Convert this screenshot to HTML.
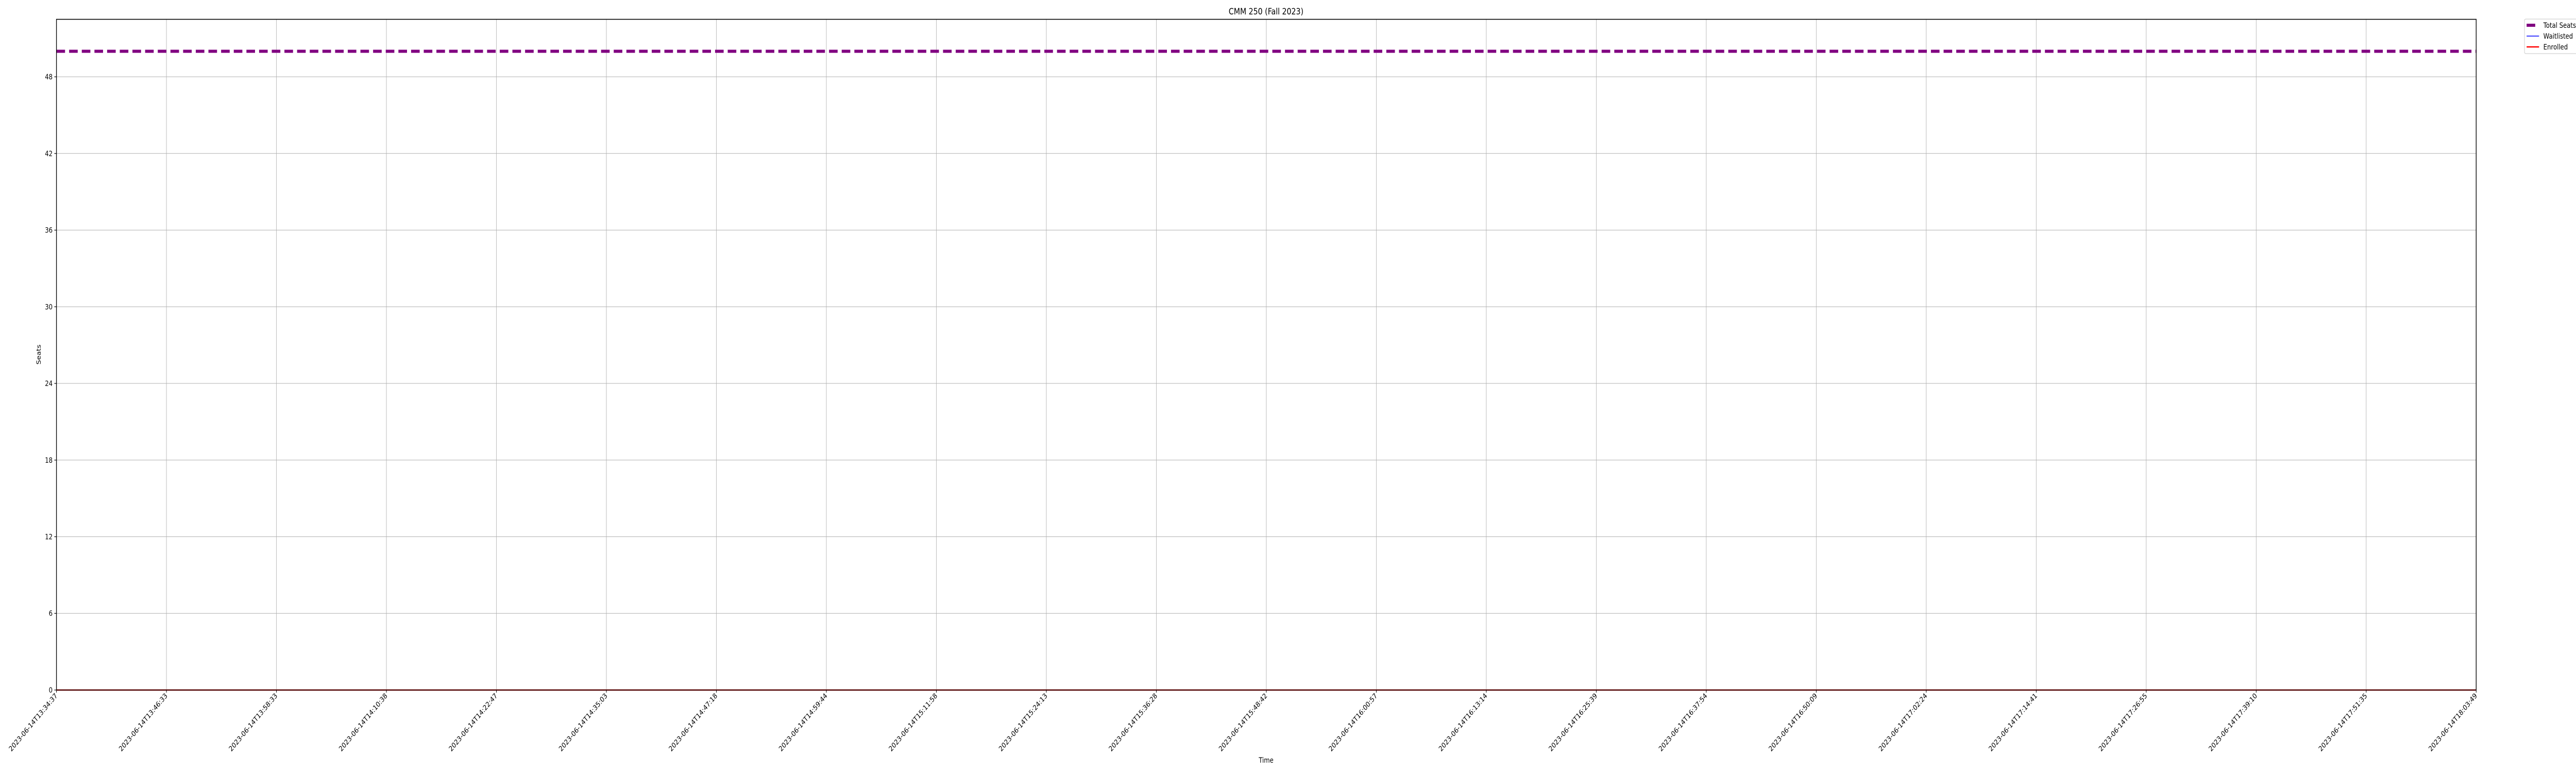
<!DOCTYPE html>
<html><head><meta charset="utf-8"><style>
html,body{margin:0;padding:0;background:#fff;width:100%;height:100%;overflow:hidden;}
svg{display:block;width:100vw;height:100vh;font-family:"DejaVu Sans","Liberation Sans",sans-serif;}
</style></head><body>
<svg id="chart" viewBox="0 0 6000 1500" preserveAspectRatio="none" xmlns="http://www.w3.org/2000/svg">
<rect width="6000" height="1500" fill="#fff"/>
<text x="2949" y="28" font-size="17" text-anchor="middle">CMM 250 (Fall 2023)</text>
<g id="grid"></g><g id="series"></g>
<rect x="131.5" y="37.5" width="5636" height="1301.5" fill="none" stroke="#000" stroke-width="1.6"/>
<g id="axes"></g>
<text transform="translate(95,688) rotate(-90)" font-size="14" text-anchor="middle">Seats</text>
<text x="2949" y="1480" font-size="14" text-anchor="middle">Time</text>
<g>
<rect x="5880" y="37" width="130" height="67" rx="3" fill="#fff" stroke="#d0d0d0" stroke-width="1.3"/>
<line x1="5885" y1="49" x2="5905" y2="49" stroke="purple" stroke-width="6"/>
<text x="5924" y="54" font-size="14">Total Seats</text>
<line x1="5885" y1="70" x2="5914" y2="70" stroke="blue" stroke-width="1.5"/>
<text x="5924" y="75" font-size="14">Waitlisted</text>
<line x1="5885" y1="91" x2="5914" y2="91" stroke="red" stroke-width="2.5"/>
<text x="5924" y="96" font-size="14">Enrolled</text>
</g>
</svg>
<script>
const times = ["2023-06-14T13:34:37","2023-06-14T13:46:33","2023-06-14T13:58:33","2023-06-14T14:10:38","2023-06-14T14:22:47","2023-06-14T14:35:03","2023-06-14T14:47:18","2023-06-14T14:59:44","2023-06-14T15:11:58","2023-06-14T15:24:13","2023-06-14T15:36:28","2023-06-14T15:48:42","2023-06-14T16:00:57","2023-06-14T16:13:14","2023-06-14T16:25:39","2023-06-14T16:37:54","2023-06-14T16:50:09","2023-06-14T17:02:24","2023-06-14T17:14:41","2023-06-14T17:26:55","2023-06-14T17:39:10","2023-06-14T17:51:35","2023-06-14T18:03:49"];
const totalSeats = [50,50,50,50,50,50,50,50,50,50,50,50,50,50,50,50,50,50,50,50,50,50,50];
const waitlisted = [0,0,0,0,0,0,0,0,0,0,0,0,0,0,0,0,0,0,0,0,0,0,0];
const enrolled = [0,0,0,0,0,0,0,0,0,0,0,0,0,0,0,0,0,0,0,0,0,0,0];
const yTicks = [0,6,12,18,24,30,36,42,48];

const NS="http://www.w3.org/2000/svg";
const L=131.5,R=5767.5,T=37.5,B=1339;
const yMax=Math.max(...totalSeats,...waitlisted,...enrolled)*1.05||1;
const xs=i=>L+(R-L)*i/(times.length-1);
const ys=v=>B-(B-T)*v/yMax;
function mk(tag,attrs,parent){const e=document.createElementNS(NS,tag);for(const k in attrs)e.setAttribute(k,attrs[k]);parent.appendChild(e);return e;}
const grid=document.getElementById('grid'),axes=document.getElementById('axes'),ser=document.getElementById('series');
yTicks.forEach(v=>{
  const y=ys(v);
  const g=mk('line',{x1:L,x2:R,y1:y,y2:y,stroke:'#b0b0b0','stroke-width':1},grid);
  
  
  mk('line',{x1:L-5,x2:L,y1:y,y2:y,stroke:'#000','stroke-width':1.2},axes);
  const t=mk('text',{x:L-9,y:y+5,'font-size':14,'text-anchor':'end'},axes);
  
  
  t.textContent=v;
});
times.forEach((s,i)=>{
  const x=xs(i);
  const g=mk('line',{x1:x,x2:x,y1:T,y2:B,stroke:'#b0b0b0','stroke-width':1},grid);
  
  
  mk('line',{x1:x,x2:x,y1:B,y2:B+5,stroke:'#000','stroke-width':1.2},axes);
  const t=mk('text',{transform:`translate(${x+3},${B+12}) rotate(-45)`,'font-size':14,'text-anchor':'end'},axes);
  
  
  t.textContent=s;
});
function pts(arr){return arr.map((v,i)=>xs(i)+','+ys(v)).join(' ');}
const p1=mk('polyline',{points:pts(totalSeats),fill:'none',stroke:'purple','stroke-width':6,'stroke-dasharray':'20 9.5'},ser);


const p2=mk('polyline',{points:pts(waitlisted),fill:'none',stroke:'blue','stroke-width':1.5},ser);


const p3=mk('polyline',{points:pts(enrolled),fill:'none',stroke:'red','stroke-width':2.5},ser);


</script>
</body></html>
